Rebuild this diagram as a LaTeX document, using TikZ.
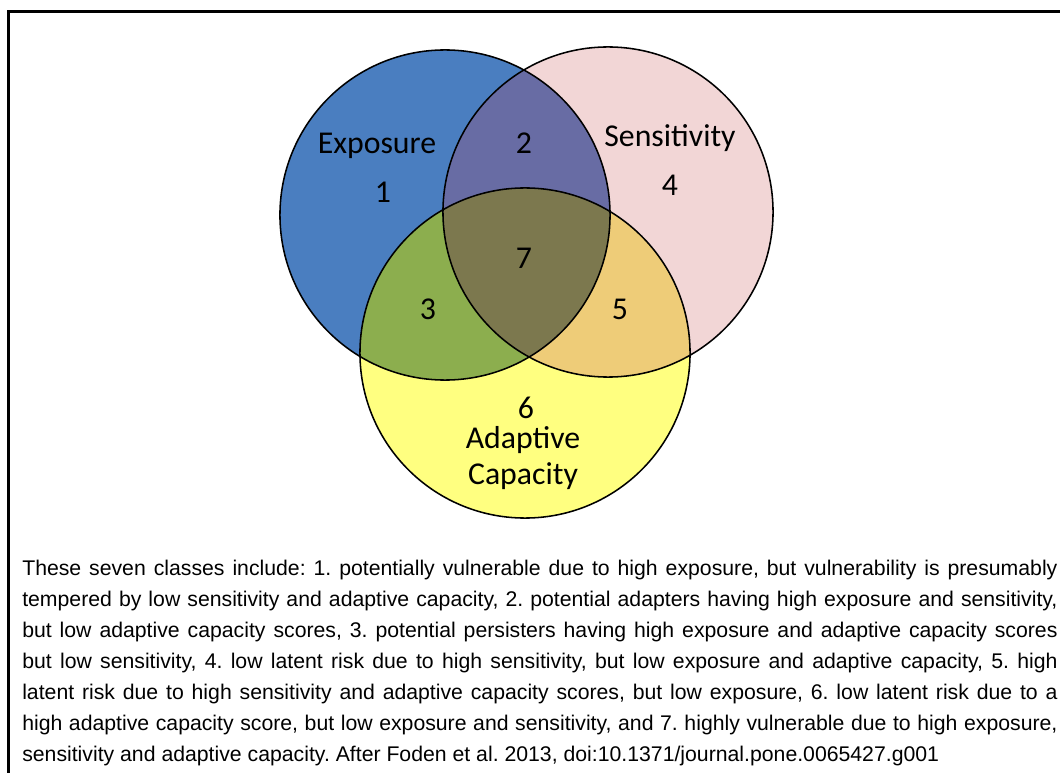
\documentclass[tikz,border=0pt]{standalone}
\usepackage{fontspec}
\setmainfont{Liberation Sans}
\newfontfamily\vennfont{Carlito}
\usepackage{tikz}
\usetikzlibrary{positioning,calc}
\definecolor{expblue}{RGB}{74,126,192}
\definecolor{senspink}{RGB}{242,214,214}
\definecolor{adyellow}{RGB}{255,255,128}
\definecolor{regtwo}{RGB}{104,108,164}
\definecolor{regthree}{RGB}{140,174,78}
\definecolor{regfive}{RGB}{238,204,120}
\definecolor{regseven}{RGB}{124,120,78}
\def\vrad{4.125cm}
\tikzset{
    x=0.025cm, y=-0.025cm,
    rim/.style = {draw=black, line width=1.1pt},
    frameline/.style = {draw=black, line width=2.2pt},
    lbl/.style = {font=\vennfont\fontsize{22.6}{25.6}\selectfont, inner sep=0pt, align=center},
    capt/.style = {font=\fontsize{15.1}{22}\selectfont\frenchspacing, inner sep=0pt, anchor=north west,
                   text width=25.875cm, align=justify}
}
\begin{document}
\begin{tikzpicture}
    \useasboundingbox (0,0) rectangle (1060,773);
    \coordinate (E) at (445,215);
    \coordinate (S) at (608,212);
    \coordinate (A) at (525,353);
    \coordinate (fcorner) at (8.5,11.5);

    % outer frame (only top and left visible)
    \draw[frameline] (fcorner -| 1062,0) -- (fcorner) -- (fcorner |- 0,775);

    % single sets
    \fill[expblue] (E) circle[radius=\vrad];
    \fill[senspink] (S) circle[radius=\vrad];
    \fill[adyellow] (A) circle[radius=\vrad];
    % overlaps
    \begin{scope}
        \clip (E) circle[radius=\vrad];
        \fill[regtwo] (S) circle[radius=\vrad];
        \fill[regthree] (A) circle[radius=\vrad];
    \end{scope}
    \begin{scope}
        \clip (S) circle[radius=\vrad];
        \fill[regfive] (A) circle[radius=\vrad];
        \clip (E) circle[radius=\vrad];
        \fill[regseven] (A) circle[radius=\vrad];
    \end{scope}
    \draw[rim] (E) circle[radius=\vrad];
    \draw[rim] (S) circle[radius=\vrad];
    \draw[rim] (A) circle[radius=\vrad];

    \node[lbl] (lblexp) at (377,146) {Exposure};
    \node[lbl] (n1) at (383,192) {1};
    \node[lbl] (n2) at (524,143) {2};
    \node[lbl] (lblsens) at (670,138) {Sensitivity};
    \node[lbl] (n4) at (670,185) {4};
    \node[lbl] (n7) at (524,258) {7};
    \node[lbl] (n3) at (428,309) {3};
    \node[lbl] (n5) at (620,309) {5};
    \node[lbl] (n6) at (526,408) {6};
    \node[lbl] (lbladapt) at (523,458) {Adaptive\\Capacity};

    \node[capt] (caption) at (22,560) {These seven classes include: 1. potentially vulnerable due to high exposure, but vulnerability is presumably\linebreak
tempered by low sensitivity and adaptive capacity, 2. potential adapters having high exposure and sensitivity,\linebreak
but low adaptive capacity scores, 3. potential persisters having high exposure and adaptive capacity scores\linebreak
but low sensitivity, 4. low latent risk due to high sensitivity, but low exposure and adaptive capacity, 5. high\linebreak
latent risk due to high sensitivity and adaptive capacity scores, but low exposure, 6. low latent risk due to a\linebreak
high adaptive capacity score, but low exposure and sensitivity, and 7. highly vulnerable due to high exposure,\linebreak
sensitivity and adaptive capacity. After Foden et al. 2013, doi:10.1371/journal.pone.0065427.g001};
\end{tikzpicture}
\end{document}
